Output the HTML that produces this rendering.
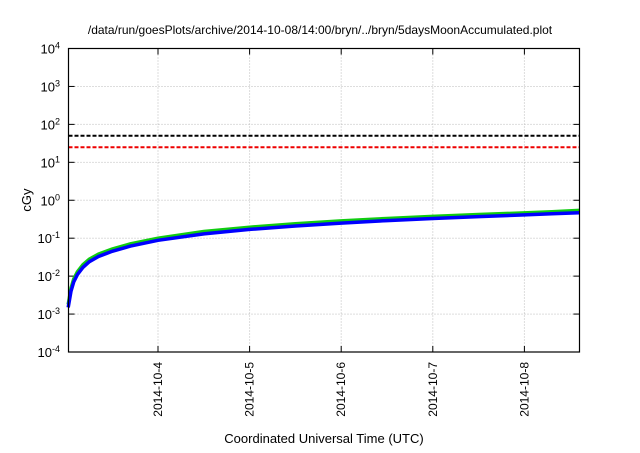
<!DOCTYPE html>
<html><head><meta charset="utf-8"><style>
body{margin:0;background:#fff;font-family:"Liberation Sans",sans-serif}
</style></head><body>
<svg id="c" width="640" height="448" xmlns="http://www.w3.org/2000/svg" font-family="Liberation Sans, sans-serif" font-size="12"></svg>
<script>
const days=[3.02,3.05,3.08,3.12,3.18,3.25,3.35,3.5,3.7,4,4.5,5,5.5,6,6.5,7,7.5,8,8.3,8.6];
const blue=[0.0015,0.004,0.007,0.011,0.017,0.024,0.033,0.045,0.062,0.088,0.13,0.17,0.21,0.25,0.29,0.33,0.37,0.41,0.44,0.47];
const green=[0.0018,0.0048,0.0084,0.013,0.020,0.028,0.038,0.052,0.071,0.10,0.15,0.195,0.24,0.285,0.33,0.375,0.42,0.465,0.50,0.54];
const thrBlack=50, thrRed=25;
const xTicks=[4,5,6,7,8];
const xLabels=["2014-10-4","2014-10-5","2014-10-6","2014-10-7","2014-10-8"];
const yExp=[-4,-3,-2,-1,0,1,2,3,4];
const L=68.5,R=579.5,T=48.5,B=352;
const x=d=>158+(d-4)*91.6;
const y=v=>B-(Math.log10(v)+4)/8*(B-T);
const s=document.getElementById('c');const NS="http://www.w3.org/2000/svg";
function el(t,a,txt){const e=document.createElementNS(NS,t);for(const k in a)e.setAttribute(k,a[k]);if(txt!==undefined)e.textContent=txt;s.appendChild(e);return e;}
let e=el('text',{x:320,y:34,'text-anchor':'middle','font-size':12},'/data/run/goesPlots/archive/2014-10-08/14:00/bryn/../bryn/5daysMoonAccumulated.plot');

yExp.forEach(p=>{const yy=y(Math.pow(10,p));
 if(p>-4&&p<4){e=el('line',{x1:L,x2:R,y1:yy,y2:yy,stroke:'#bbb','stroke-dasharray':'1,2','stroke-width':1});}
 e=el('line',{x1:L,x2:L+6,y1:yy,y2:yy,stroke:'#000'});
 e=el('line',{x1:R-6,x2:R,y1:yy,y2:yy,stroke:'#000'});
 const t=el('text',{x:60,y:yy+5,'text-anchor':'end','font-size':13});
 t.innerHTML='10<tspan dy="-5" font-size="9">'+p+'</tspan>';
});
xTicks.forEach((d,i)=>{const xx=x(d);
 e=el('line',{x1:xx,x2:xx,y1:T,y2:B,stroke:'#bbb','stroke-dasharray':'1,2'});
 e=el('line',{x1:xx,x2:xx,y1:B-6,y2:B,stroke:'#000'});
 e=el('line',{x1:xx,x2:xx,y1:T,y2:T+6,stroke:'#000'});
 e=el('text',{x:0,y:0,'text-anchor':'end','font-size':12,transform:`translate(${xx+4},362) rotate(-90)`},xLabels[i]);
});
e=el('line',{x1:L,x2:R,y1:y(thrBlack),y2:y(thrBlack),stroke:'#000','stroke-width':2,'stroke-dasharray':'4,2'});
e=el('line',{x1:L,x2:R,y1:y(thrRed),y2:y(thrRed),stroke:'#e00','stroke-width':2,'stroke-dasharray':'4,2'});
const pts=a=>days.map((d,i)=>x(d).toFixed(1)+','+y(a[i]).toFixed(1)).join(' ');
e=el('polyline',{points:pts(green),fill:'none',stroke:'#1c1','stroke-width':3.5});
e=el('polyline',{points:pts(blue),fill:'none',stroke:'#00f','stroke-width':3.5});
e=el('rect',{x:L,y:T,width:R-L,height:B-T,fill:'none',stroke:'#000','stroke-width':1.2});
e=el('text',{x:0,y:0,'text-anchor':'middle','font-size':13,transform:'translate(31,200) rotate(-90)'},'cGy');
e=el('text',{x:324,y:443,'text-anchor':'middle','font-size':13},'Coordinated Universal Time (UTC)');
</script>
</body></html>
